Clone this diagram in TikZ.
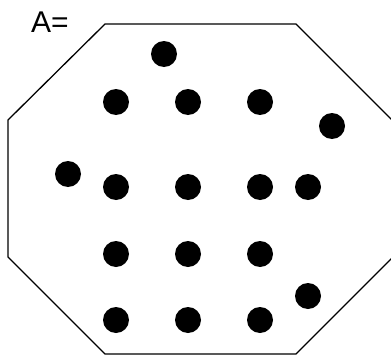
\documentclass[tikz,border=0pt]{standalone}
\usepackage{fontspec}
\setmainfont{Liberation Sans}
\begin{document}
\begin{tikzpicture}[x=1pt,y=-1pt,
  dot/.style={circle,fill=black,inner sep=0pt,minimum size=26pt},
  edge/.style={line width=1.3pt,line join=miter}]
\useasboundingbox (0,0) rectangle (391,356);
\node[anchor=base west,inner sep=0pt,font=\fontsize{30}{36}\selectfont] (lbl) at (31,32) {A=};
\draw[edge] (105,24) -- (296,24) -- (393,121) -- (393,257) -- (296,354) -- (105,354) -- (8,257) -- (8,120) -- cycle;
\node[dot] (d0) at (164,54) {};
\foreach \x [count=\i] in {116,188,260} {\node[dot] (a\i) at (\x,102) {};}
\node[dot] (r1) at (332,126) {};
\node[dot] (l1) at (68,174) {};
\foreach \x [count=\i] in {116,188,260,308} {\node[dot] (b\i) at (\x,187) {};}
\foreach \x [count=\i] in {116,188,260} {\node[dot] (c\i) at (\x,254) {};}
\node[dot] (r2) at (308,296) {};
\foreach \x [count=\i] in {116,188,260} {\node[dot] (e\i) at (\x,320) {};}
\end{tikzpicture}
\end{document}
